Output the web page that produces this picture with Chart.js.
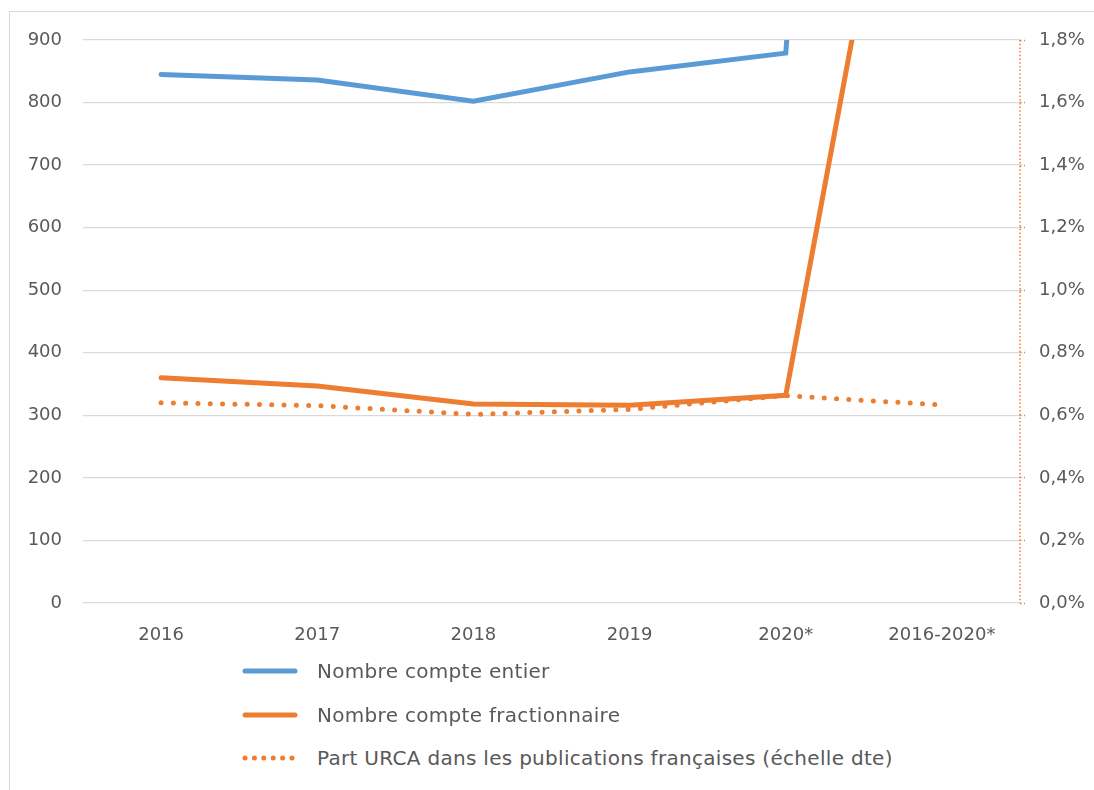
<!DOCTYPE html>
<html lang="fr">
<head>
<meta charset="utf-8">
<script src="https://cdn.jsdelivr.net/npm/chart.js@4/dist/chart.umd.min.js"></script>
<style>
  html, body { margin: 0; padding: 0; background: #fff; }
  body { width: 1094px; height: 790px; position: relative; overflow: hidden; font-family: "DejaVu Sans", sans-serif; }
  #frame { position: absolute; left: 9px; top: 11px; width: 1200px; height: 900px; border: 1px solid #d9d9d9; }
  #wrap { position: absolute; left: 0; top: 0; width: 1094px; height: 660px; }
  #legend { position: absolute; left: 242px; top: 0; color: #595959; font-size: 20px; letter-spacing: 0.3px; }
  .item { position: absolute; left: 0; white-space: nowrap; display: flex; align-items: center; }
</style>
</head>
<body>
<div id="frame"></div>
<div id="wrap"><canvas id="chart"></canvas></div>
<div id="legend"></div>
<script>
const years = ["2016", "2017", "2018", "2019", "2020*", "2016-2020*"];
const compteEntier = [845, 836, 802, 849, 879, 4211];
const compteFrac = [360, 347, 318, 316, 332, 1673];
const partUrca = [0.640, 0.631, 0.603, 0.619, 0.663, 0.633]; // en %

const labelEntier = "Nombre compte entier";
const labelFrac = "Nombre compte fractionnaire";
const labelPart = "Part URCA dans les publications françaises (échelle dte)";

const blue = "#5b9bd5";
const orange = "#ed7d31";
const grey = "#595959";

Chart.defaults.font.family = '"DejaVu Sans", sans-serif';
Chart.defaults.font.size = 18;
Chart.defaults.color = grey;

// axe droit en pointillés (border.dash ne touche que la grille en v4)
const dottedAxis = {
  id: "dottedAxis",
  afterDatasetsDraw(chart) {
    const s = chart.scales.y2;
    const c = chart.ctx;
    c.save();
    c.strokeStyle = orange;
    c.lineWidth = 1.5;
    c.setLineDash([1.5, 2.2]);
    c.beginPath();
    c.moveTo(s.left, s.top);
    c.lineTo(s.left, s.bottom);
    c.stroke();
    c.restore();
  }
};

const ctx = document.getElementById("chart").getContext("2d");
new Chart(ctx, {
  type: "line",
  data: {
    labels: years,
    datasets: [
      {
        label: labelEntier, data: compteEntier, yAxisID: "y",
        borderColor: blue, borderWidth: 5, pointRadius: 0, tension: 0,
        borderCapStyle: "round", clip: 0
      },
      {
        label: labelFrac, data: compteFrac, yAxisID: "y",
        borderColor: orange, borderWidth: 5, pointRadius: 0, tension: 0,
        borderCapStyle: "round", clip: 0
      },
      {
        label: labelPart, data: partUrca, yAxisID: "y2",
        borderColor: orange, borderWidth: 5, pointRadius: 0, tension: 0,
        borderDash: [0, 12.3], borderCapStyle: "round", clip: 0
      }
    ]
  },
  options: {
    responsive: true,
    maintainAspectRatio: false,
    animation: false,
    layout: { padding: { top: 40, left: 0, right: 0, bottom: 0 } },
    plugins: { legend: { display: false }, tooltip: { enabled: false } },
    scales: {
      x: {
        offset: true,
        grid: { display: false },
        border: { display: false },
        ticks: { padding: 14, color: grey },
        afterFit: (s) => { s.height = 57; }
      },
      y: {
        position: "left",
        min: 0, max: 900,
        ticks: { stepSize: 100, padding: 21, color: grey },
        grid: { color: "#d9d9d9", lineWidth: 1.3, drawTicks: false },
        border: { display: false },
        afterFit: (s) => { s.width = 83; }
      },
      y2: {
        position: "right",
        min: 0, max: 1.8,
        ticks: {
          stepSize: 0.2, padding: 14, color: grey,
          callback: (v) => v.toFixed(1).replace(".", ",") + "%"
        },
        grid: {
          drawOnChartArea: false, drawTicks: true, tickLength: 5,
          tickColor: orange, tickWidth: 1.3, tickBorderDash: [1.5, 2.5]
        },
        border: { display: false },
        afterFit: (s) => { s.width = 74; }
      }
    }
  },
  plugins: [dottedAxis]
});

// légende sous le graphique
const legendItems = [
  { text: labelEntier, color: blue, dotted: false, top: 671 },
  { text: labelFrac, color: orange, dotted: false, top: 715 },
  { text: labelPart, color: orange, dotted: true, top: 758 }
];
const legend = document.getElementById("legend");
legendItems.forEach((it) => {
  const row = document.createElement("div");
  row.className = "item";
  row.style.top = (it.top - 14) + "px";
  row.style.height = "28px";
  const sample = document.createElement("canvas");
  sample.width = 56; sample.height = 10;
  sample.style.marginRight = "19px";
  const c = sample.getContext("2d");
  c.strokeStyle = it.color;
  c.lineCap = "round";
  c.lineWidth = 5;
  if (it.dotted) c.setLineDash([0, 9.4]);
  c.beginPath(); c.moveTo(3, 5); c.lineTo(53, 5); c.stroke();
  const span = document.createElement("span");
  span.textContent = it.text;
  row.appendChild(sample);
  row.appendChild(span);
  legend.appendChild(row);
});
</script>
</body>
</html>
